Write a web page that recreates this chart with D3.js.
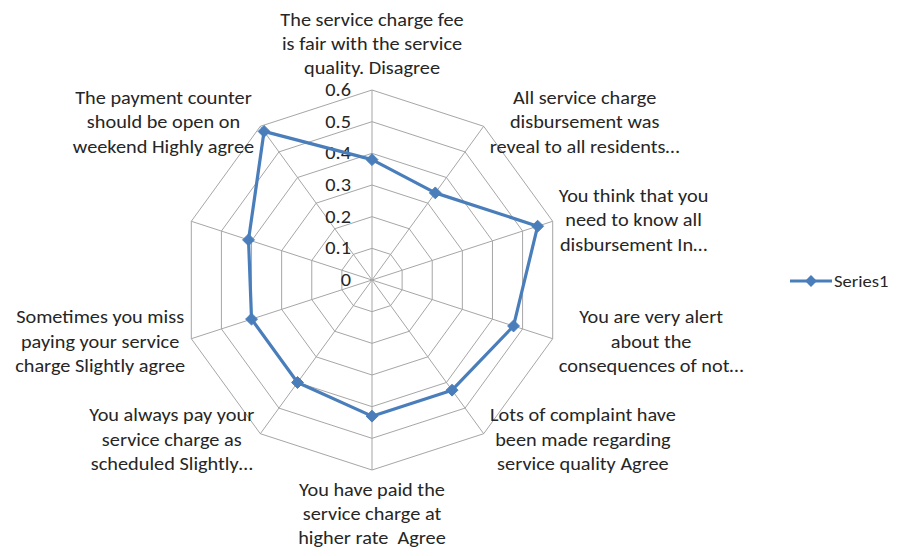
<!DOCTYPE html>
<html>
<head>
<meta charset="utf-8">
<script src="https://cdnjs.cloudflare.com/ajax/libs/d3/7.8.5/d3.min.js"></script>
<style>
  body { margin: 0; background: #fff; }
  text { font-family: Carlito, "Open Sans", sans-serif; fill: #262626; white-space: pre; }
</style>
</head>
<body>
<div id="radar"></div>
<script>
// categories (line breaks as in the chart)
const categories = [
  "The service charge fee\nis fair with the service\nquality. Disagree",
  "All service charge\ndisbursement was\nreveal to all residents…",
  "You think that you\nneed to know all\ndisbursement In…",
  "You are very alert\nabout the\nconsequences of not…",
  "Lots of complaint have\nbeen made regarding\nservice quality Agree",
  "You have paid the\nservice charge at\nhigher rate  Agree",
  "You always pay your\nservice charge as\nscheduled Slightly…",
  "Sometimes you miss\npaying your service\ncharge Slightly agree",
  "",
  "The payment counter\nshould be open on\nweekend Highly agree"
];
const series1 = [0.38, 0.34, 0.55, 0.47, 0.43, 0.43, 0.40, 0.40, 0.41, 0.58];
const ticks = [0, 0.1, 0.2, 0.3, 0.4, 0.5, 0.6];
const seriesName = "Series1";

const width = 897, height = 556;
const cx = 372, cy = 280, radius = 190;
const gridColor = "#a6a6a6", lineColor = "#4a7ebb";
const fontSize = 17.5, lineH = 24.5, sx = 1.16; // text in the original is a little stretched

const svg = d3.select("#radar").append("svg")
  .attr("width", width).attr("height", height);

const rScale = d3.scaleLinear().domain([0, 0.6]).range([0, radius]);
const angle = d3.scaleLinear().domain([0, categories.length]).range([0, 2 * Math.PI]);

const pt = (i, v) => [cx + rScale(v) * Math.sin(angle(i)), cy - rScale(v) * Math.cos(angle(i))];

// grid rings
const grid = svg.append("g").classed("grid", true);
grid.selectAll("polygon")
  .data(ticks.slice(1))
  .enter()
  .append("polygon")
  .attr("points", t => categories.map((c, i) => pt(i, t).join(",")).join(" "))
  .attr("fill", "none")
  .attr("stroke", gridColor)
  .attr("stroke-width", 1);

// spokes
grid.selectAll("line")
  .data(categories)
  .enter()
  .append("line")
  .attr("x1", cx).attr("y1", cy)
  .attr("x2", (d, i) => pt(i, 0.6)[0])
  .attr("y2", (d, i) => pt(i, 0.6)[1])
  .attr("stroke", gridColor)
  .attr("stroke-width", 1);

// tick labels
svg.append("g").selectAll("text")
  .data(ticks)
  .enter()
  .append("text")
  .attr("transform", t => `translate(${cx - 21},${cy - rScale(t) + 6}) scale(${sx},1)`)
  .attr("text-anchor", "end")
  .style("font-size", fontSize + "px")
  .text(t => t);

// series line
const line = d3.line()
  .x((d, i) => pt(i, d)[0])
  .y((d, i) => pt(i, d)[1])
  .curve(d3.curveLinearClosed);

svg.append("path")
  .attr("d", line(series1))
  .attr("fill", "none")
  .attr("stroke", lineColor)
  .attr("stroke-width", 3.2)
  .attr("stroke-linejoin", "round");

const diamond = d3.symbol().type(d3.symbolDiamond2).size(90);
svg.append("g").selectAll("path")
  .data(series1)
  .enter()
  .append("path")
  .attr("d", diamond)
  .attr("transform", (d, i) => `translate(${pt(i, d)[0]},${pt(i, d)[1]})`)
  .attr("fill", lineColor)
  .attr("stroke", lineColor)
  .attr("stroke-width", 1);

// category labels
const labels = svg.append("g").classed("labels", true);
categories.forEach((c, i) => {
  if (!c) return;
  const lines = c.split("\n");
  const a = angle(i);
  const s = Math.sin(a), co = Math.cos(a);
  const [vx, vy] = pt(i, 0.6);
  const g = labels.append("g");
  const t = g.append("text")
    .attr("text-anchor", "middle")
    .style("font-size", fontSize + "px");
  lines.forEach((l, k) => {
    t.append("tspan").attr("x", 0).attr("y", (k - (lines.length - 1) / 2) * lineH + 5).text(l);
  });
  const w = t.node().getBBox().width * sx;
  let x, y;
  if (Math.abs(s) < 0.01) {
    x = vx;
    y = vy - co * 45;
  } else {
    const side = s > 0 ? 1 : -1;
    x = vx + side * (6 + w / 2);
    y = vy - co * 6 + 2;
  }
  g.attr("transform", `translate(${x},${y}) scale(${sx},1)`);
});

// legend
const legend = svg.append("g").attr("transform", "translate(790,281)");
legend.append("line").attr("x1", 0).attr("x2", 42).attr("y1", 0).attr("y2", 0)
  .attr("stroke", lineColor).attr("stroke-width", 3.2);
legend.append("path").attr("d", diamond).attr("transform", "translate(21,0)")
  .attr("fill", lineColor);
legend.append("text").attr("transform", `translate(44,6) scale(${sx},1)`)
  .style("font-size", "16px").text(seriesName);
</script>
</body>
</html>
